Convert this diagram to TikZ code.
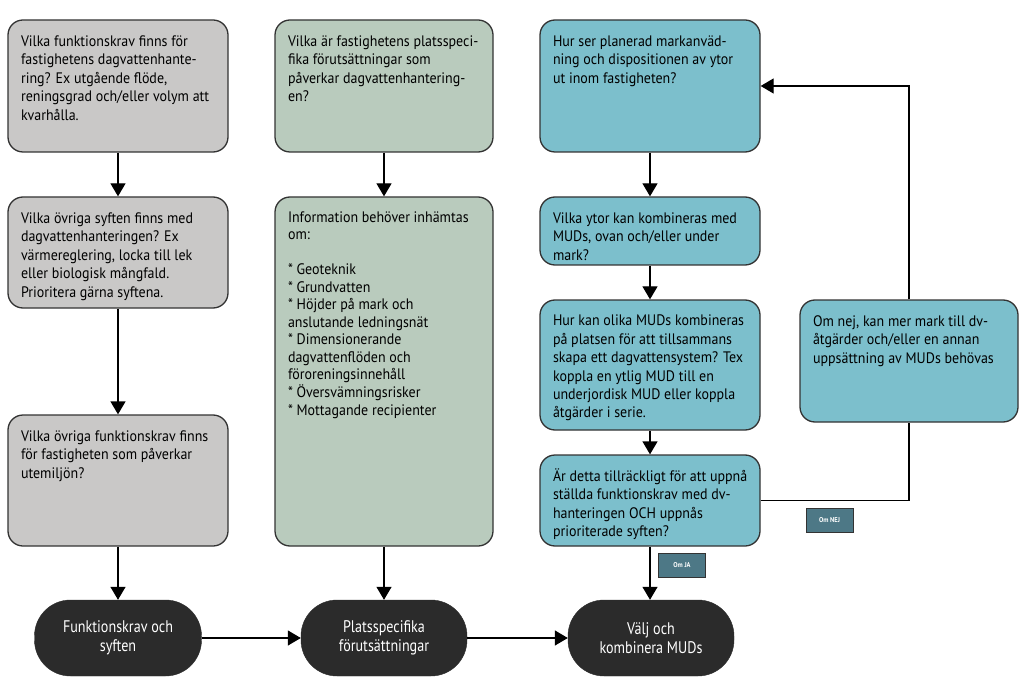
\documentclass[tikz,border=0pt]{standalone}
\usepackage{fontspec}
\setmainfont[FakeStretch=0.92]{PT Sans}
\newfontfamily\condfont[FakeStretch=0.84]{PT Sans}
\usetikzlibrary{arrows.meta}
\definecolor{gfill}{HTML}{C9C8C7}
\definecolor{grfill}{HTML}{B9CBBD}
\definecolor{bfill}{HTML}{7CBFCC}
\definecolor{dfill}{HTML}{2B2B2B}
\definecolor{tfill}{HTML}{4D7886}
\definecolor{edge}{HTML}{333333}
\newcommand{\boxtxt}[4][18.6pt]{\parbox[c][#3][t]{#2}{\fontsize{15.2}{#1}\selectfont\begin{tabular}[t]{@{}l@{}}#4\end{tabular}}}
\begin{document}
\begin{tikzpicture}[x=1pt,y=-1pt,
  qbox/.style={draw=edge, line width=1.3pt, rounded corners=15pt, inner xsep=12pt, inner ysep=13pt, anchor=center},
  gbox/.style={qbox, fill=gfill},
  grbox/.style={qbox, fill=grfill},
  bbox/.style={qbox, fill=bfill},
  endbox/.style={fill=dfill, draw=dfill, rounded corners=36pt, minimum width=167pt, minimum height=76pt, text=white, align=center, font=\condfont\fontsize{16.8}{18.5}\selectfont},
  tagbox/.style={fill=tfill, draw=edge, line width=0.6pt, minimum width=47pt, minimum height=24pt, inner sep=0pt, text=white, font=\fontsize{7}{8}\selectfont\bfseries},
  arr/.style={line width=1.3pt, draw=black, -{Triangle[width=15pt,length=13pt]}},
  ln/.style={line width=1.3pt, draw=black}]
\useasboundingbox (0,0) rectangle (1024,684);
% column 1
\node[gbox, minimum width=220pt, minimum height=132pt] (a1) at (118,86) {\boxtxt{194pt}{106pt}{Vilka funktionskrav finns för\\fastighetens dagvattenhante-\\ring? Ex utgående flöde,\\reningsgrad och/eller volym att\\kvarhålla.}};
\node[gbox, minimum width=220pt, minimum height=111pt] (a2) at (118,252.5) {\boxtxt{194pt}{85pt}{Vilka övriga syften finns med\\dagvattenhanteringen? Ex\\värmereglering, locka till lek\\eller biologisk mångfald.\\Prioritera gärna syftena.}};
\node[gbox, minimum width=220pt, minimum height=131pt] (a3) at (118,480.5) {\boxtxt{194pt}{105pt}{Vilka övriga funktionskrav finns\\för fastigheten som påverkar\\utemiljön?}};
% column 2
\node[grbox, minimum width=218pt, minimum height=132pt] (b1) at (384,86) {\boxtxt{192pt}{106pt}{Vilka är fastighetens platsspeci-\\fika förutsättningar som\\påverkar dagvattenhantering-\\en?}};
\node[grbox, minimum width=218pt, minimum height=349pt] (b2) at (384,371.5) {\boxtxt[17.5pt]{192pt}{323pt}{Information behöver inhämtas\\om:\\[17.5pt]{*} Geoteknik\\{*} Grundvatten\\{*} Höjder på mark och\\anslutande ledningsnät\\{*} Dimensionerande\\dagvattenflöden och\\föroreningsinnehåll\\{*} Översvämningsrisker\\{*} Mottagande recipienter}};
% column 3
\node[bbox, minimum width=220pt, minimum height=132pt] (c1) at (650,86) {\boxtxt{194pt}{106pt}{Hur ser planerad markanväd-\\ning och dispositionen av ytor\\ut inom fastigheten?}};
\node[bbox, minimum width=220pt, minimum height=68pt] (c2) at (650,231) {\boxtxt{194pt}{42pt}{Vilka ytor kan kombineras med\\MUDs, ovan och/eller under\\mark?}};
\node[bbox, minimum width=220pt, minimum height=130pt] (c3) at (650,365) {\boxtxt[18.4pt]{194pt}{104pt}{Hur kan olika MUDs kombineras\\på platsen för att tillsammans\\skapa ett dagvattensystem? Tex\\koppla en ytlig MUD till en\\underjordisk MUD eller koppla\\åtgärder i serie.}};
\node[bbox, minimum width=220pt, minimum height=91pt] (c4) at (650,500.5) {\boxtxt{194pt}{65pt}{Är detta tillräckligt för att uppnå\\ställda funktionskrav med dv-\\hanteringen OCH uppnås\\prioriterade syften?}};
% column 4
\node[bbox, minimum width=218pt, minimum height=122pt] (d1) at (909,361) {\boxtxt{192pt}{96pt}{Om nej, kan mer mark till dv-\\åtgärder och/eller en annan\\uppsättning av MUDs behövas}};
% end nodes
\node[endbox] (n1) at (118,638) {Funktionskrav och\\syften};
\node[endbox, minimum width=166pt] (n2) at (384,638) {Platsspecifika\\förutsättningar};
\node[endbox, minimum width=166pt] (n3) at (651,638) {Välj och\\kombinera MUDs};
% tags
\node[tagbox] (nej) at (829.5,520) {Om NEJ};
\node[tagbox] (ja) at (682,565.5) {Om JA};
% connectors
\draw[arr] (a1.south) -- (a2.north);
\draw[arr] (a2.south) -- (a3.north);
\draw[arr] (a3.south) -- (n1.north);
\draw[arr] (b1.south) -- (b2.north);
\draw[arr] (b2.south) -- (n2.north);
\draw[arr] (c1.south) -- (c2.north);
\draw[arr] (c2.south) -- (c3.north);
\draw[arr] (c3.south) -- (c4.north);
\draw[arr] (c4.south) -- (c4.south |- n3.north);
\draw[arr] (n1.east) -- (n2.west);
\draw[arr] (n2.east) -- (n3.west);
\draw[ln] (c4.east) -| (d1.south);
\draw[arr] (d1.north) |- (c1.east);
\end{tikzpicture}
\end{document}
